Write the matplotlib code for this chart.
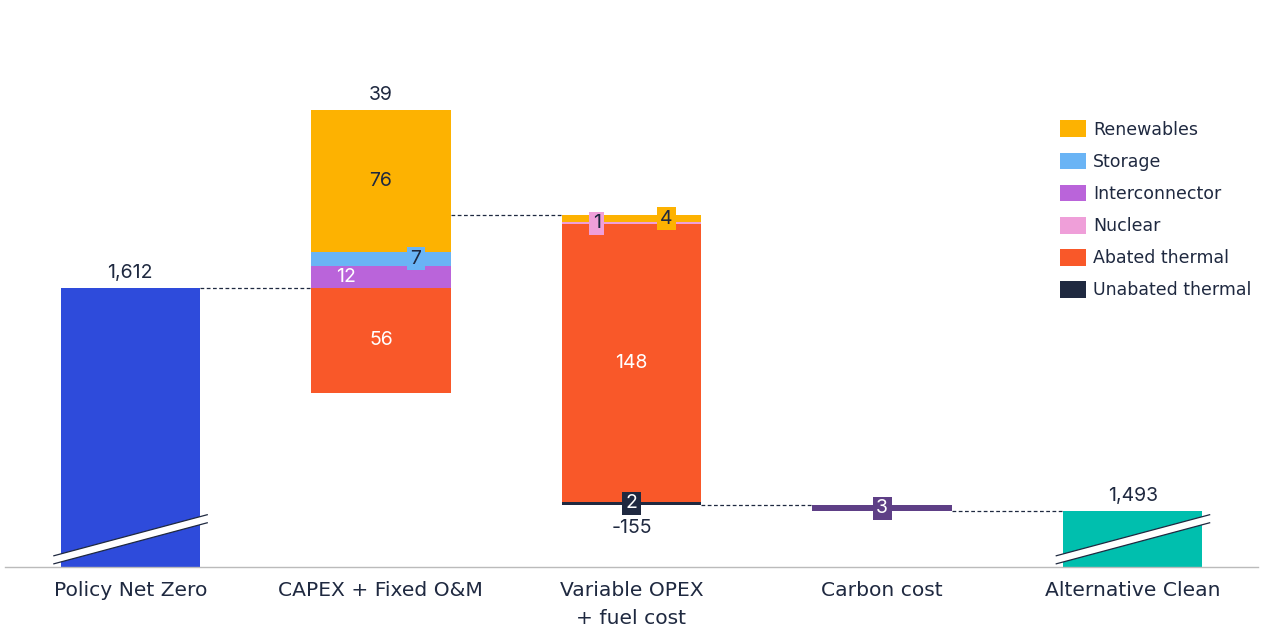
import matplotlib
matplotlib.use("Agg")
import matplotlib.pyplot as plt
from matplotlib.patches import Patch, Polygon, Rectangle

plt.rcParams['font.family'] = ['Inter', 'DejaVu Sans']

categories = ["Policy Net Zero", "CAPEX + Fixed O&M", "Variable OPEX\n+ fuel cost", "Carbon cost", "Alternative Clean"]
start_total = 1612
end_total = 1493
start_label = "1,612"
end_label = "1,493"
techs = ["Renewables", "Storage", "Interconnector", "Nuclear", "Abated thermal", "Unabated thermal"]
capex_vals = [76, 7, 12, 0, -56, 0]
opex_vals = [-4, 0, 0, -1, -148, -2]
carbon_val = -3
capex_label = "39"
opex_label = "-155"

tech_colors = ["#FDB201", "#6AB4F5", "#BA64DA", "#EF9FD9", "#F95829", "#1F2940"]
text_on = ["#1F2940", "#1F2940", "white", "#1F2940", "white", "white"]
carbon_color = "#5E3F86"
start_color = "#2E4BDB"
end_color = "#00BFAE"
dark = "#1F2940"

capex_offsets = [0, 0.25, -0.25, 0, 0, 0]
opex_offsets = [0.25, 0, 0, -0.25, 0, 0]

W, H = 1274, 634
fig = plt.figure(figsize=(W / 100, H / 100), dpi=100)
ax = fig.add_axes([5 / W, (H - 567) / H, (1258 - 5) / W, 567 / H])
ymin, ymax = 1463.1, 1765.7
ax.set_xlim(-0.5, 4.5)
ax.set_ylim(ymin, ymax)
bw = 0.557
fs = 14
px_x = 5.0 / 1253.0
px_y = (ymax - ymin) / 567.0
box_h = 23 * px_y
renderer = fig.canvas.get_renderer()

def seg_label(x, y, txt, tcolor, boxcolor=None):
    t = ax.text(x, y, txt, ha='center', va='center', fontsize=fs, color=tcolor, zorder=5)
    if boxcolor is not None:
        wpx = t.get_window_extent(renderer).width + 7
        bwid = wpx * px_x
        ax.add_patch(Rectangle((x - bwid / 2, y - box_h / 2), bwid, box_h,
                               fc=boxcolor, ec='none', zorder=4))

def top_label(x, y, txt, up=True):
    ax.annotate(txt, (x, y), xytext=(0, 11 if up else -16), textcoords='offset points',
                ha='center', va='center', fontsize=fs, color=dark)

ax.bar(0, start_total - ymin, bottom=ymin, width=bw, color=start_color, zorder=2)
ax.bar(4, end_total - ymin, bottom=ymin, width=bw, color=end_color, zorder=2)
top_label(0, start_total, start_label)
top_label(4, end_total, end_label)

def stack(xi, base, vals, offsets):
    top = base
    for k in reversed(range(len(vals))):
        v = vals[k]
        if v > 0:
            ax.bar(xi, v, bottom=top, width=bw, color=tech_colors[k], zorder=2)
            seg_label(xi + offsets[k] * bw, top + v / 2, str(v), text_on[k],
                      tech_colors[k] if v < 10 else None)
            top += v
    bot = base
    for k in range(len(vals)):
        v = vals[k]
        if v < 0:
            ax.bar(xi, v, bottom=bot, width=bw, color=tech_colors[k], zorder=2)
            seg_label(xi + offsets[k] * bw, bot + v / 2, str(-v), text_on[k],
                      tech_colors[k] if -v < 10 else None)
            bot += v
    return top, bot

lvl1 = start_total
top2, bot2 = stack(1, lvl1, capex_vals, capex_offsets)
lvl2 = lvl1 + sum(capex_vals)
top_label(1, top2, capex_label)
top3, bot3 = stack(2, lvl2, opex_vals, opex_offsets)
lvl3 = lvl2 + sum(opex_vals)
top_label(2, bot3, opex_label, up=False)
ax.bar(3, carbon_val, bottom=lvl3, width=bw, color=carbon_color, zorder=2)
seg_label(3, lvl3 + carbon_val / 2, str(-carbon_val), "white", carbon_color)
lvl4 = lvl3 + carbon_val

for i, lv in enumerate([lvl1, lvl2, lvl3, lvl4]):
    ax.plot([i + bw / 2, i + 1 - bw / 2], [lv, lv], ls=(0, (3, 2)), lw=0.9, color=dark, zorder=1)

for xc in (0, 4):
    xl, xr = xc - 0.305, xc + 0.307
    lo = (ymin + 1.7, ymin + 23.6)
    hi = (ymin + 6.0, ymin + 27.9)
    poly = Polygon([(xl, lo[0]), (xr, lo[1]), (xr, hi[1]), (xl, hi[0])], closed=True,
                   fc='white', ec='none', zorder=3, clip_on=False)
    ax.add_patch(poly)
    ax.plot([xl, xr], [lo[0], lo[1]], color=dark, lw=0.9, zorder=4, clip_on=False)
    ax.plot([xl, xr], [hi[0], hi[1]], color=dark, lw=0.9, zorder=4, clip_on=False)

for s in ['top', 'right', 'left']:
    ax.spines[s].set_visible(False)
ax.spines['bottom'].set_color('#BBBBBB')
ax.spines['bottom'].set_linewidth(1)
ax.set_yticks([])
ax.set_xticks(range(len(categories)))
ax.set_xticklabels(categories, fontsize=14.6, color=dark, linespacing=1.62,
                   family=['DejaVu Sans'])
ax.tick_params(axis='x', length=0, pad=10)

handles = [Patch(fc=c, ec='none') for c in tech_colors]
leg = fig.legend(handles, techs, loc='upper left', bbox_to_anchor=(1060 / W, 1 - 120.5 / H),
                 frameon=False, prop={'family': 'DejaVu Sans', 'size': 12.5},
                 handlelength=1.5, handleheight=1.1,
                 handletextpad=0.4, labelspacing=0.8, borderpad=0, borderaxespad=0,
                 labelcolor=dark)

fig.savefig("out.png", dpi=100)
